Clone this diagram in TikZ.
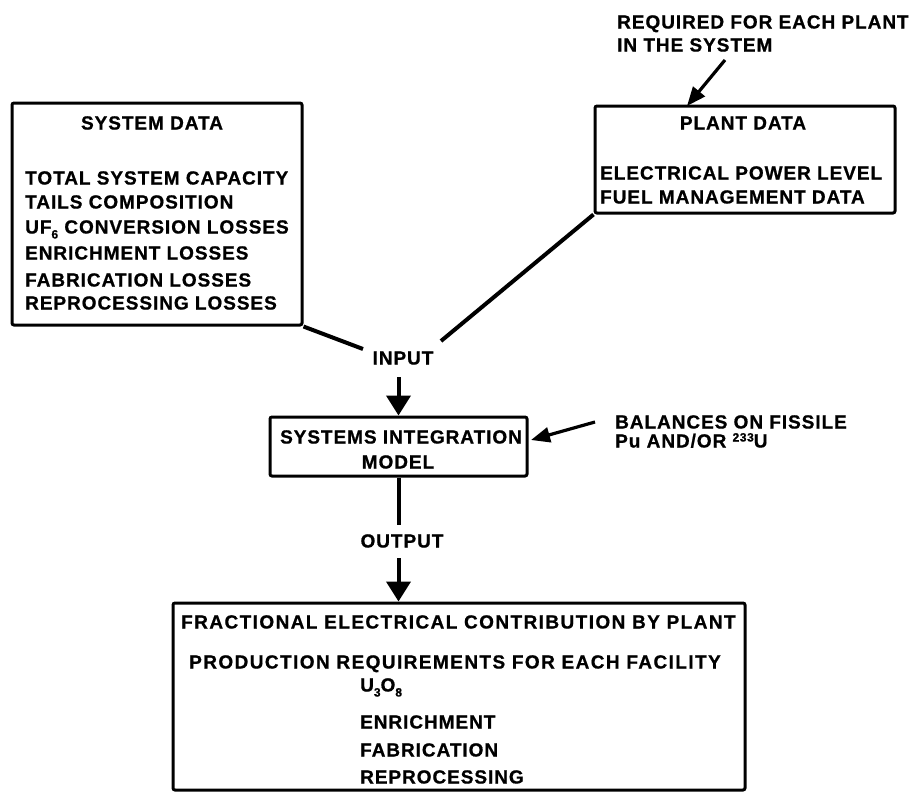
\documentclass[tikz,border=0pt]{standalone}
\usepackage{fontspec}
\setmainfont{Liberation Sans}[LetterSpace=5, BoldFeatures={FakeBold=0.8}]
\usetikzlibrary{arrows.meta}
\newcommand{\lowsub}[1]{\raisebox{-5pt}{\fontsize{12}{12}\selectfont #1}}
\newcommand{\highsup}[1]{\raisebox{6pt}{\fontsize{12}{12}\selectfont #1}}
\tikzset{
  box/.style={draw, line width=3pt, rounded corners=2pt, inner sep=0pt},
  txt/.style={font=\bfseries\fontsize{19}{22}\selectfont, inner sep=0pt, anchor=base west},
  widetxt/.style={txt, font=\bfseries\fontsize{19}{22}\selectfont\addfontfeature{LetterSpace=7.5}},
  ctxt/.style={txt, anchor=base},
  conn/.style={line width=4pt},
  arr/.style={line width=4pt, -{Triangle[width=24pt,length=20pt]}},
  thinarr/.style={line width=3.2pt, -{Triangle[width=15pt,length=19pt]}},
}
\begin{document}
\begin{tikzpicture}[x=1pt,y=-1pt]
\useasboundingbox (0,0) rectangle (911,793);
% boxes
\node[box, minimum width=290pt, minimum height=222pt] (sd) at (157,214) {};
\node[box, minimum width=300pt, minimum height=107pt] (pd) at (745,159.5) {};
\node[box, minimum width=257pt, minimum height=59pt] (sim) at (398.5,446.5) {};
\node[box, minimum width=572pt, minimum height=187pt] (bot) at (459,696.5) {};
% system data
\node[ctxt] (sdt) at (152,129.5) {SYSTEM DATA};
\node[txt] (sd1) at (25,184.5) {TOTAL SYSTEM CAPACITY};
\node[txt] (sd2) at (25,208.5) {TAILS COMPOSITION};
\node[txt] (sd3) at (25,233.5) {UF\lowsub{6} CONVERSION LOSSES};
\node[txt] (sd4) at (25,259.5) {ENRICHMENT LOSSES};
\node[txt] (sd5) at (25,286.5) {FABRICATION LOSSES};
\node[txt] (sd6) at (25,309.5) {REPROCESSING LOSSES};
% plant data
\node[ctxt] (pdt) at (743,129.5) {PLANT DATA};
\node[txt] (pd1) at (600,179.5) {ELECTRICAL POWER LEVEL};
\node[txt] (pd2) at (600,203.5) {FUEL MANAGEMENT DATA};
\node[txt] (rq1) at (617,28.5) {REQUIRED FOR EACH PLANT};
\node[txt] (rq2) at (617,51.5) {IN THE SYSTEM};
% middle
\node[ctxt] (inp) at (403,364.5) {INPUT};
\node[ctxt] (sim1) at (401,443.5) {SYSTEMS INTEGRATION};
\node[ctxt] (sim2) at (398,468.5) {MODEL};
\node[txt] (bal1) at (615,428.5) {BALANCES ON FISSILE};
\node[txt] (bal2) at (615,447.5) {Pu AND/OR \highsup{233}U};
\node[ctxt] (outp) at (402,547.5) {OUTPUT};
% bottom
\node[widetxt] (b1) at (181,628.5) {FRACTIONAL ELECTRICAL CONTRIBUTION BY PLANT};
\node[widetxt] (b2) at (189,668.5) {PRODUCTION REQUIREMENTS FOR EACH FACILITY};
\node[txt] (b3) at (360,691.5) {U\lowsub{3}O\lowsub{8}};
\node[txt] (b4) at (360,728.5) {ENRICHMENT};
\node[txt] (b5) at (360,756.5) {FABRICATION};
\node[txt] (b6) at (360,783.5) {REPROCESSING};
% connector points
\coordinate (inL) at (363,349);
\coordinate (inR) at (441,341);
\coordinate (a1s) at (398.5,377);
\coordinate (oc) at (398.5,525);
\coordinate (a2s) at (398.5,558);
\coordinate (rqs) at (725,60);
\coordinate (rqt) at (687,106);
\coordinate (bals) at (595,422);
\coordinate (balt) at (531,440);
% connectors
\draw[conn] (sd.south east) -- (inL);
\draw[conn] (pd.south west) -- (inR);
\draw[arr] (a1s) -- (sim.north);
\draw[conn] (sim.south) -- (oc);
\draw[arr] (a2s) -- (bot.north -| a2s);
\draw[thinarr] (rqs) -- (rqt);
\draw[thinarr] (bals) -- (balt);
\end{tikzpicture}
\end{document}
